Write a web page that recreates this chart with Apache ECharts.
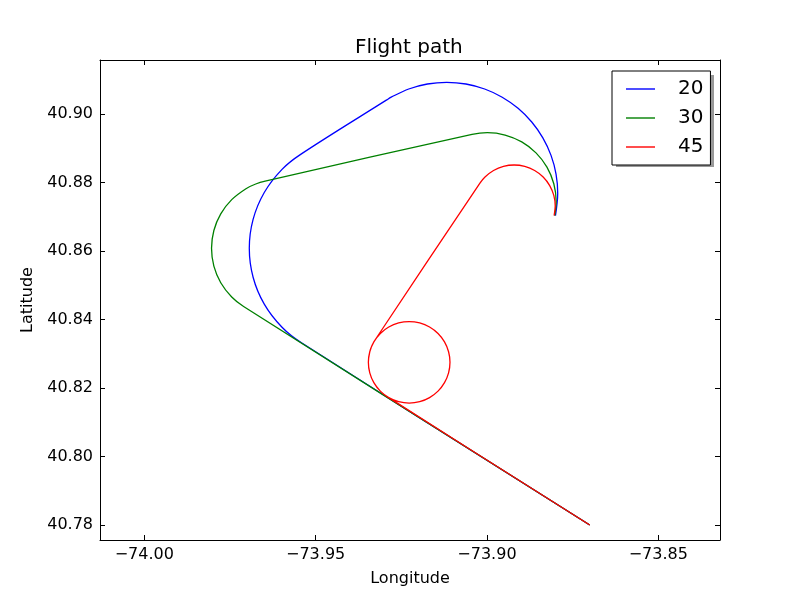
<!DOCTYPE html>
<html>
<head>
<meta charset="utf-8">
<script src="https://cdn.jsdelivr.net/npm/echarts@6/dist/echarts.min.js"></script>
<style>html,body{margin:0;padding:0;background:#fff}#c{width:800px;height:600px}</style>
</head>
<body>
<div id="c"></div>
<script>
const seriesNames = ['20', '30', '45'];
const seriesColors = ['#0000ff', '#008000', '#ff0000'];
const xTicks = [-74.00, -73.95, -73.90, -73.85];
const yTicks = [40.78, 40.80, 40.82, 40.84, 40.86, 40.88, 40.90];
const xRange = [-74.01293, -73.83199];
const yRange = [40.77562, 40.91577];

const path20 = [
  [-73.87000, 40.78000], [-73.95413, 40.83320], [-73.95981, 40.83774], [-73.96499, 40.84449],
  [-73.96825, 40.85235], [-73.96936, 40.86079], [-73.96825, 40.86923], [-73.96499, 40.87709],
  [-73.95981, 40.88384], [-73.95437, 40.88822], [-73.92925, 40.90412], [-73.92795, 40.90491],
  [-73.92283, 40.90730], [-73.91738, 40.90876], [-73.91175, 40.90925], [-73.90613, 40.90876],
  [-73.90067, 40.90730], [-73.89555, 40.90491], [-73.89092, 40.90167], [-73.88693, 40.89767],
  [-73.88369, 40.89305], [-73.88130, 40.88793], [-73.87984, 40.88247], [-73.87935, 40.87685],
  [-73.88001, 40.87033]
];
const path30 = [
  [-73.87000, 40.78000], [-73.97102, 40.84380], [-73.97449, 40.84658], [-73.97769, 40.85074],
  [-73.97970, 40.85559], [-73.98038, 40.86079], [-73.97970, 40.86599], [-73.97769, 40.87084],
  [-73.97449, 40.87500], [-73.97033, 40.87820], [-73.96748, 40.87956], [-73.96473, 40.88039],
  [-73.90435, 40.89405], [-73.89990, 40.89455], [-73.89470, 40.89387], [-73.88985, 40.89186],
  [-73.88569, 40.88866], [-73.88249, 40.88450], [-73.88049, 40.87965], [-73.87980, 40.87445],
  [-73.88023, 40.87031]
];
const path45 = [
  [-73.87000, 40.78000], [-73.92901, 40.81740], [-73.93112, 40.81908], [-73.93301, 40.82155],
  [-73.93420, 40.82442], [-73.93461, 40.82750], [-73.93420, 40.83058], [-73.93301, 40.83346],
  [-73.93112, 40.83592], [-73.92866, 40.83781], [-73.92578, 40.83900], [-73.92270, 40.83941],
  [-73.91962, 40.83900], [-73.91675, 40.83781], [-73.91428, 40.83592], [-73.91239, 40.83346],
  [-73.91120, 40.83058], [-73.91079, 40.82750], [-73.91120, 40.82442], [-73.91239, 40.82155],
  [-73.91428, 40.81908], [-73.91675, 40.81719], [-73.91962, 40.81600], [-73.92270, 40.81559],
  [-73.92578, 40.81600], [-73.92866, 40.81719], [-73.93112, 40.81908], [-73.93301, 40.82155],
  [-73.93420, 40.82442], [-73.93461, 40.82750], [-73.93420, 40.83058], [-73.93349, 40.83253],
  [-73.93257, 40.83416], [-73.90205, 40.87979], [-73.90057, 40.88160], [-73.89808, 40.88350],
  [-73.89519, 40.88470], [-73.89208, 40.88511], [-73.88897, 40.88470], [-73.88608, 40.88350],
  [-73.88360, 40.88160], [-73.88169, 40.87911], [-73.88049, 40.87622], [-73.88008, 40.87311],
  [-73.88040, 40.87037]
];
const paths = [path20, path30, path45];

const FONT = 'DejaVu Sans';
const fmt = v => (v < 0 ? '\u2212' : '') + Math.abs(v).toFixed(2);

function axisCommon(range, ticks, showLabels, margin) {
  return {
    type: 'value', min: range[0], max: range[1], scale: true,
    splitLine: { show: false },
    axisLine: { show: true, onZero: false, lineStyle: { color: '#000', width: 1 } },
    axisTick: { show: true, inside: true, length: 5, customValues: ticks, lineStyle: { color: '#000', width: 1 } },
    axisLabel: { show: showLabels, customValues: ticks, formatter: fmt, margin: margin,
      fontFamily: FONT, fontSize: 16, color: '#000' }
  };
}

const LEG = { left: 612, top: 71, width: 98, height: 92, shadow: 4 };

const chart = echarts.init(document.getElementById('c'), null, { renderer: 'canvas' });
chart.setOption({
  animation: false,
  backgroundColor: '#fff',
  title: {
    text: 'Flight path', left: 355, top: 38, padding: 0,
    textStyle: { fontFamily: FONT, fontSize: 20, fontWeight: 'normal', color: '#000' }
  },
  grid: { left: 100, right: 80, top: 60, bottom: 60, show: false },
  xAxis: [
    Object.assign(axisCommon(xRange, xTicks, true, 7), {
      position: 'bottom', name: 'Longitude', nameLocation: 'middle', nameGap: 31,
      nameTextStyle: { fontFamily: FONT, fontSize: 16, color: '#000' }
    }),
    Object.assign(axisCommon(xRange, xTicks, false, 7), { position: 'top' })
  ],
  yAxis: [
    Object.assign(axisCommon(yRange, yTicks, true, 7), {
      position: 'left', name: 'Latitude', nameLocation: 'middle', nameGap: 56,
      nameTextStyle: { fontFamily: FONT, fontSize: 16, color: '#000' }
    }),
    Object.assign(axisCommon(yRange, yTicks, false, 7), { position: 'right' })
  ],
  graphic: [{
    type: 'rect', z: 3, silent: true,
    shape: { x: LEG.left + LEG.shadow, y: LEG.top + LEG.shadow, width: LEG.width, height: LEG.height },
    style: { fill: '#999' }
  }],
  legend: {
    orient: 'vertical', left: LEG.left, top: LEG.top, z: 10,
    padding: [8, 7, 8, 14], itemWidth: 29, itemHeight: 1.4, itemGap: 9, icon: 'rect',
    backgroundColor: '#fff', borderColor: '#000', borderWidth: 1, borderRadius: 0,
    textStyle: { fontFamily: FONT, fontSize: 20, color: '#000', padding: [0, 0, 0, 18] },
    data: seriesNames
  },
  series: paths.map((p, i) => ({
    name: seriesNames[i], type: 'line', data: p,
    xAxisIndex: 0, yAxisIndex: 0,
    symbol: 'none', showSymbol: false, smooth: 0.34,
    lineStyle: { color: seriesColors[i], width: 1.3 },
    itemStyle: { color: seriesColors[i] }
  }))
});
</script>
</body>
</html>
